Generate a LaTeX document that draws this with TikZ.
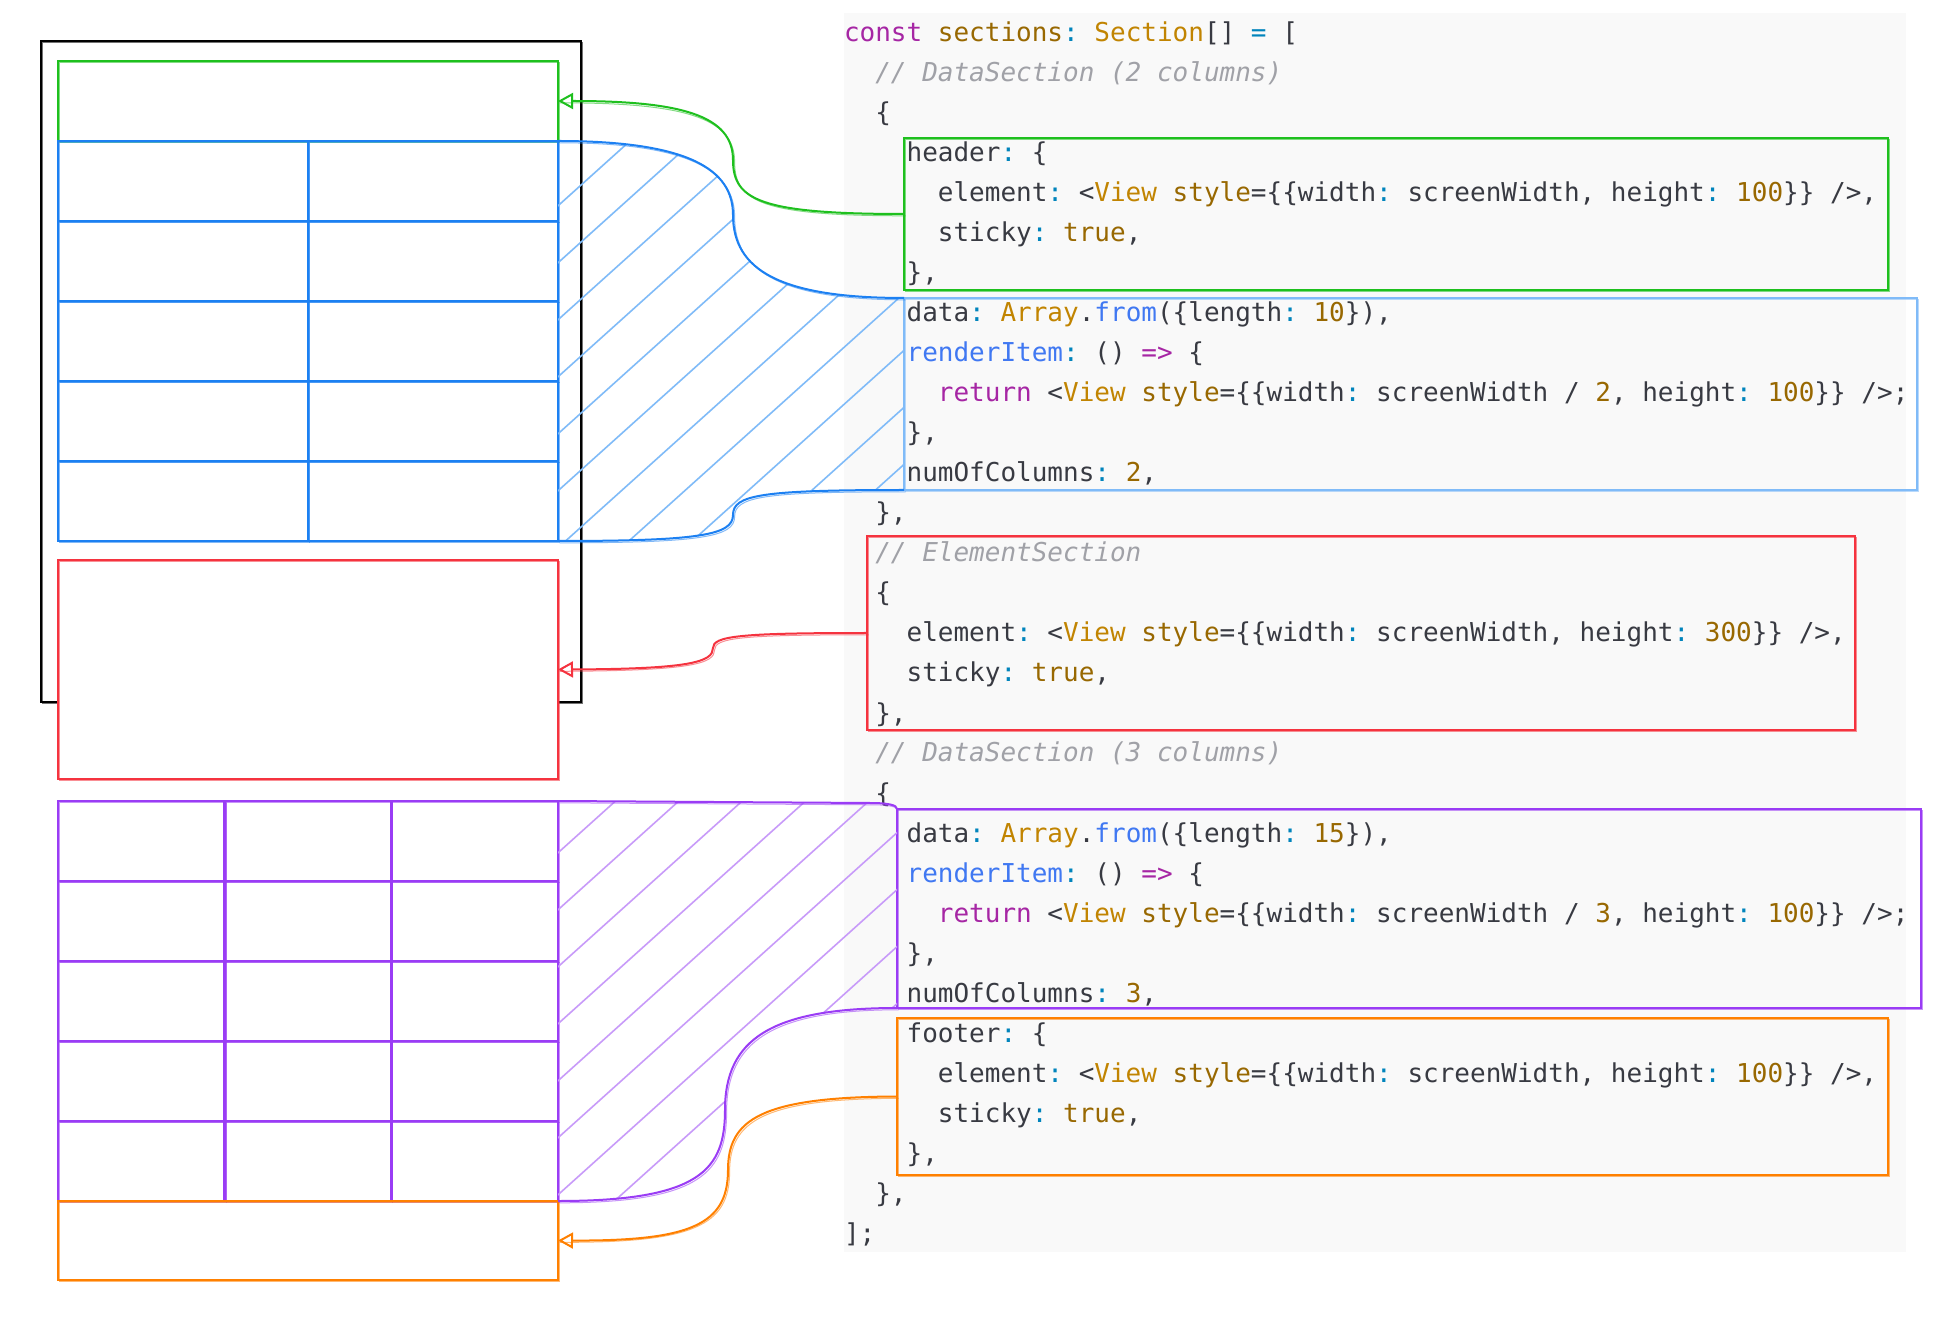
\documentclass[tikz,border=0pt]{standalone}
\usepackage{fontspec}
\newfontfamily\codefont{DejaVu Sans Mono}
\usetikzlibrary{arrows.meta}
\definecolor{colKw}{HTML}{A626A4}
\definecolor{colGo}{HTML}{C18401}
\definecolor{colBr}{HTML}{986801}
\definecolor{colPu}{HTML}{0184BC}
\definecolor{colFn}{HTML}{4078F2}
\definecolor{colCm}{HTML}{A0A1A7}
\definecolor{colTx}{HTML}{383A42}
\definecolor{colBg}{HTML}{F9F9F9}
\definecolor{colGreen}{HTML}{1EC01E}
\definecolor{colBlue}{HTML}{1C80F2}
\definecolor{colLBlue}{HTML}{80BBF8}
\definecolor{colRed}{HTML}{F5333F}
\definecolor{colPurple}{HTML}{9A3CF5}
\definecolor{colLPurple}{HTML}{C89BF9}
\definecolor{colOrange}{HTML}{FF8000}
\newcommand\ckw[1]{\textcolor{colKw}{#1}}
\newcommand\cgo[1]{\textcolor{colGo}{#1}}
\newcommand\cbr[1]{\textcolor{colBr}{#1}}
\newcommand\cpu[1]{\textcolor{colPu}{#1}}
\newcommand\cfn[1]{\textcolor{colFn}{#1}}
\newcommand\ccm[1]{\textcolor{colCm}{\itshape #1}}
\newcommand\codeln[4]{\node[codeline] (#1) at ({844+#2*15.65},{42+40*(#3-1)}) {#4};}
\tikzset{
  sk/.style={postaction={draw,-,line width=0.5pt,opacity=0.55,transform canvas={shift={(0.8pt,-0.9pt)}}}},
  box/.style={draw,line width=0.9pt,inner sep=0pt,outer sep=0pt,anchor=north west,sk},
  cell/.style={box,line width=1.4pt},
  codeline/.style={anchor=base west,inner sep=0pt,outer sep=0pt,font=\codefont\fontsize{13pt}{16pt}\selectfont\frenchspacing,text=colTx},
  conn/.style={line width=1pt,sk},
  arr/.style={conn,-{Triangle[open,length=7.5pt,width=8pt]}},
  hatch/.style={line width=0.8pt}
}
\begin{document}
\begin{tikzpicture}[x=0.5pt,y=-0.5pt]
\useasboundingbox (0,0) rectangle (1960,1320);
\fill[white] (0,0) rectangle (1960,1320);
% code background
\node[anchor=north west,fill=colBg,inner sep=0pt,outer sep=0pt,minimum width=531pt,minimum height=619.5pt] (codebg) at (844,13) {};
% code lines
\codeln{l1}{0}{1}{\ckw{const} \cbr{sections}\cpu{:} \cgo{Section}[] \cpu{=} [}
\codeln{l2}{2}{2}{\ccm{// DataSection (2 columns)}}
\codeln{l3}{2}{3}{\{}
\codeln{l4}{4}{4}{header\cpu{:} \{}
\codeln{l5}{6}{5}{element\cpu{:} <\cgo{View} \cbr{style}=\{\{width\cpu{:} screenWidth, height\cpu{:} \cbr{100}\}\} />,}
\codeln{l6}{6}{6}{sticky\cpu{:} \cbr{true},}
\codeln{l7}{4}{7}{\},}
\codeln{l8}{4}{8}{data\cpu{:} \cgo{Array}.\cfn{from}(\{length\cpu{:} \cbr{10}\}),}
\codeln{l9}{4}{9}{\cfn{renderItem}\cpu{:} () \ckw{=>} \{}
\codeln{l10}{6}{10}{\ckw{return} <\cgo{View} \cbr{style}=\{\{width\cpu{:} screenWidth / \cbr{2}, height\cpu{:} \cbr{100}\}\} />;}
\codeln{l11}{4}{11}{\},}
\codeln{l12}{4}{12}{numOfColumns\cpu{:} \cbr{2},}
\codeln{l13}{2}{13}{\},}
\codeln{l14}{2}{14}{\ccm{// ElementSection}}
\codeln{l15}{2}{15}{\{}
\codeln{l16}{4}{16}{element\cpu{:} <\cgo{View} \cbr{style}=\{\{width\cpu{:} screenWidth, height\cpu{:} \cbr{300}\}\} />,}
\codeln{l17}{4}{17}{sticky\cpu{:} \cbr{true},}
\codeln{l18}{2}{18}{\},}
\codeln{l19}{2}{19}{\ccm{// DataSection (3 columns)}}
\codeln{l20}{2}{20}{\{}
\codeln{l21}{4}{21}{data\cpu{:} \cgo{Array}.\cfn{from}(\{length\cpu{:} \cbr{15}\}),}
\codeln{l22}{4}{22}{\cfn{renderItem}\cpu{:} () \ckw{=>} \{}
\codeln{l23}{6}{23}{\ckw{return} <\cgo{View} \cbr{style}=\{\{width\cpu{:} screenWidth / \cbr{3}, height\cpu{:} \cbr{100}\}\} />;}
\codeln{l24}{4}{24}{\},}
\codeln{l25}{4}{25}{numOfColumns\cpu{:} \cbr{3},}
\codeln{l26}{4}{26}{footer\cpu{:} \{}
\codeln{l27}{6}{27}{element\cpu{:} <\cgo{View} \cbr{style}=\{\{width\cpu{:} screenWidth, height\cpu{:} \cbr{100}\}\} />,}
\codeln{l28}{6}{28}{sticky\cpu{:} \cbr{true},}
\codeln{l29}{4}{29}{\},}
\codeln{l30}{2}{30}{\},}
\codeln{l31}{0}{31}{];}
% code highlight boxes
\node[box,colGreen,minimum width=492pt,minimum height=76pt] (chead) at (904,138) {};
\node[box,colLBlue,minimum width=506.5pt,minimum height=96pt] (cdata1) at (904,298) {};
\node[box,colRed,minimum width=494pt,minimum height=97pt] (celem) at (867,536) {};
\node[box,colPurple,minimum width=512pt,minimum height=99.5pt] (cdata2) at (897,809) {};
\node[box,colOrange,minimum width=495.5pt,minimum height=78.5pt] (cfoot) at (897,1018) {};
% phone frame
\node[box,black,minimum width=270pt,minimum height=330.5pt] (phone) at (41,41) {};
% phone contents
\node[cell,colGreen,minimum width=250pt,minimum height=40pt] (ghead) at (58,61) {};
\foreach \r in {1,...,5}{
  \foreach \c in {1,2}{
    \node[cell,colBlue,minimum width=125pt,minimum height=40pt] (b\r\c) at ({58+250*(\c-1)},{141+80*(\r-1)}) {};
  }
}
\node[box,colRed,fill=white,minimum width=250pt,minimum height=109.5pt] (relem) at (58,560) {};
\foreach \r in {1,...,5}{
  \foreach \c in {1,2,3}{
    \node[cell,colPurple,minimum width=83.333pt,minimum height=40pt] (p\r\c) at ({58+166.667*(\c-1)},{801+80*(\r-1)}) {};
  }
}
\node[cell,colOrange,minimum width=250pt,minimum height=39.5pt] (ofoot) at (58,1201) {};
% blue hatch band
\begin{scope}
  \clip (b12.north east) .. controls (690,141) and (733,170) .. (733,215)
        .. controls (733,270) and (780,298) .. (cdata1.north west)
        -- (cdata1.south west) .. controls (760,490) and (733,495) .. (733,515)
        .. controls (733,535) and (700,541) .. (b52.south east) -- cycle;
  \foreach \k in {708,765,...,1278}{
    \draw[hatch,colLBlue] (540,{\k-486}) -- (920,{\k-828});
  }
\end{scope}
\draw[conn,colBlue] (b12.north east) .. controls (690,141) and (733,170) .. (733,215)
        .. controls (733,270) and (780,298) .. (cdata1.north west);
\draw[conn,colBlue] (b52.south east) .. controls (700,541) and (733,535) .. (733,515)
        .. controls (733,495) and (760,490) .. (cdata1.south west);
% purple hatch band
\begin{scope}
  \clip (p13.north east) -- (870,803) .. controls (888,803) and (897,805) .. (cdata2.north west)
        -- (cdata2.south west) .. controls (770,1008) and (725,1040) .. (725,1110)
        .. controls (725,1170) and (700,1201) .. (p53.south east) -- cycle;
  \foreach \k in {1355,1412,...,1811}{
    \draw[hatch,colLPurple] (540,{\k-486}) -- (920,{\k-828});
  }
\end{scope}
\draw[conn,colPurple] (p13.north east) -- (870,803) .. controls (888,803) and (897,805) .. (cdata2.north west);
\draw[conn,colPurple] (p53.south east) .. controls (700,1201) and (725,1170) .. (725,1110)
        .. controls (725,1040) and (770,1008) .. (cdata2.south west);
% arrows
\draw[arr,colGreen] (chead.west) .. controls (760,214) and (733,200) .. (733,160)
        .. controls (733,115) and (680,101) .. (ghead.east);
\draw[arr,colRed] (celem.west) .. controls (740,633) and (713,636) .. (713,648)
        .. controls (713,662) and (690,669) .. (relem.east);
\draw[arr,colOrange] (cfoot.west) .. controls (760,1097) and (728,1120) .. (728,1170)
        .. controls (728,1225) and (690,1241) .. (ofoot.east);
\end{tikzpicture}
\end{document}
